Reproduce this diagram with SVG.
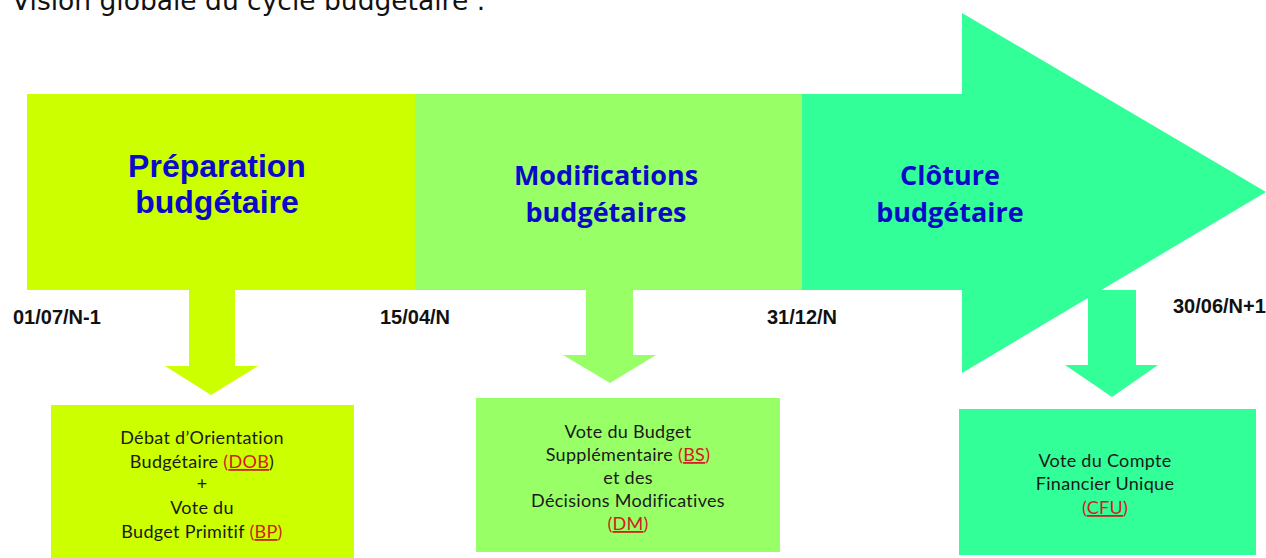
<svg xmlns="http://www.w3.org/2000/svg" width="1266" height="558" viewBox="0 0 1266 558">
<style>
.phase{font-family:"Liberation Sans",Arial,sans-serif;font-weight:bold;fill:#0a0ac8;text-anchor:middle}
.phase2{font-family:"Open Sans","Liberation Sans",sans-serif;font-weight:bold;fill:#0a0ac8;text-anchor:middle}
.date{font-family:"Liberation Sans",Arial,sans-serif;font-weight:bold;font-size:20px;fill:#111}
.box{font-family:Lato,"Liberation Sans",sans-serif;font-size:18px;letter-spacing:0.3px;fill:#1a1a1a;text-anchor:middle}
.red{fill:#d02020}
.ul{text-decoration:underline}
.y{fill:#ccff00}.g{fill:#99ff66}.t{fill:#33ff99}
</style>
<text x="12" y="10" font-family="DejaVu Sans,Verdana,sans-serif" font-size="26.5" fill="#111">Vision globale du cycle budgétaire :</text>

<g id="phase-preparation">
<rect class="y" x="27" y="94" width="388" height="196"/>
<text class="phase" x="217" y="177" font-size="32">Préparation</text>
<text class="phase" x="217" y="213" font-size="32">budgétaire</text>
</g>
<g id="phase-modifications">
<rect class="g" x="415" y="94" width="387" height="196"/>
<text class="phase2" x="606" y="185" font-size="27">Modifications</text>
<text class="phase2" x="606" y="222" font-size="27">budgétaires</text>
</g>
<g id="phase-cloture">
<polygon class="t" points="802,94 962,94 962,13 1266,192 962,373 962,290 802,290"/>
<text class="phase2" x="950" y="185" font-size="27">Clôture</text>
<text class="phase2" x="950" y="222" font-size="27">budgétaire</text>
</g>

<g id="dates">
<text class="date" x="13" y="324">01/07/N-1</text>
<text class="date" x="380" y="324">15/04/N</text>
<text class="date" x="767" y="324">31/12/N</text>
<text class="date" x="1173" y="313">30/06/N+1</text>
</g>

<g id="connectors">
<polygon class="y" points="189,289 235,289 235,366 258,366 211,395 165,366 189,366"/>
<polygon class="g" points="586,289 633,289 633,355 656,355 610,383 563,355 586,355"/>
<polygon class="t" points="1088,290 1136,290 1136,365 1158,365 1112,397 1065,365 1088,365"/>
</g>

<g id="box-dob-bp">
<rect class="y" x="51" y="405" width="303" height="160"/>
<text class="box" x="202" y="444">Débat d’Orientation</text>
<text class="box" x="202" y="468">Budgétaire <tspan class="red">(<tspan class="ul">DOB</tspan></tspan>)</text>
<text class="box" x="202" y="490">+</text>
<text class="box" x="202" y="514">Vote du</text>
<text class="box" x="202" y="538">Budget Primitif <tspan class="red">(<tspan class="ul">BP</tspan>)</tspan></text>
</g>
<g id="box-bs-dm">
<rect class="g" x="476" y="398" width="304" height="154"/>
<text class="box" x="628" y="438">Vote du Budget</text>
<text class="box" x="628" y="461">Supplémentaire <tspan class="red">(<tspan class="ul">BS</tspan>)</tspan></text>
<text class="box" x="628" y="484">et des</text>
<text class="box" x="628" y="507">Décisions Modificatives</text>
<text class="box" x="628" y="530"><tspan class="red">(<tspan class="ul">DM</tspan>)</tspan></text>
</g>
<g id="box-cfu">
<rect class="t" x="959" y="409" width="297" height="146"/>
<text class="box" x="1105" y="467">Vote du Compte</text>
<text class="box" x="1105" y="490">Financier Unique</text>
<text class="box" x="1105" y="514"><tspan class="red">(<tspan class="ul">CFU</tspan>)</tspan></text>
</g>
</svg>
